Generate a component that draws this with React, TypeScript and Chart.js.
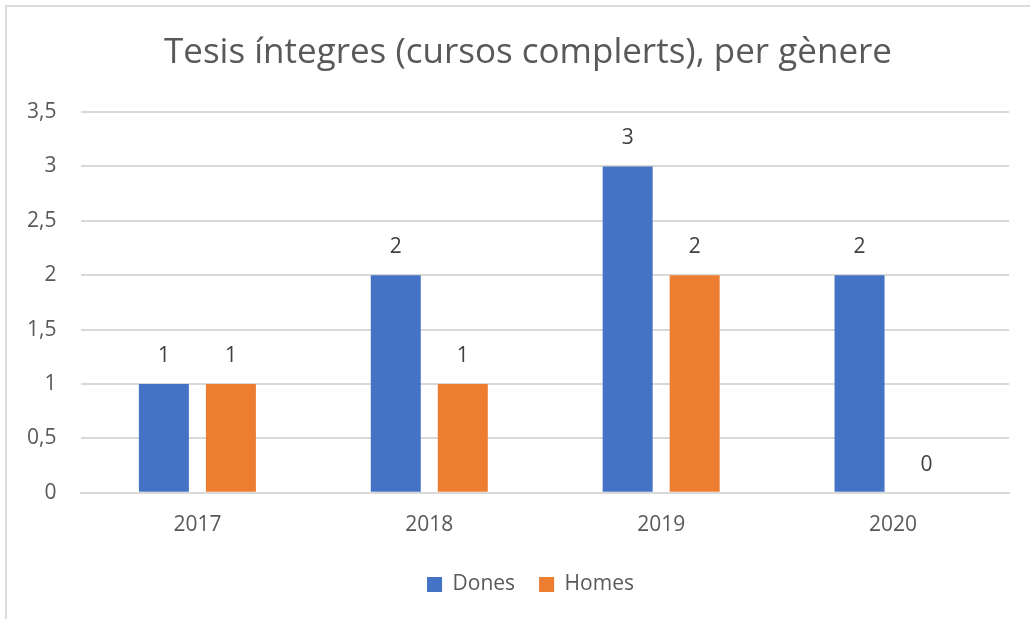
import React, { useEffect, useRef } from "react";
import { Chart, registerables } from "chart.js";

Chart.register(...registerables);

const categories = ["2017", "2018", "2019", "2020"];
const dones = [1, 2, 3, 2];
const homes = [1, 1, 2, 0];
const seriesNames = ["Dones", "Homes"];
const titleText = "Tesis íntegres (cursos complerts), per gènere";

const FONT = "'Open Sans', 'Noto Sans', sans-serif";

const valueLabels = {
  id: "valueLabels",
  afterDatasetsDraw(chart: any) {
    const ctx = chart.ctx;
    ctx.save();
    ctx.fillStyle = "#404040";
    ctx.font = `21px ${FONT}`;
    ctx.textAlign = "center";
    ctx.textBaseline = "middle";
    chart.data.datasets.forEach((ds: any, i: number) => {
      const meta = chart.getDatasetMeta(i);
      meta.data.forEach((bar: any, j: number) => {
        const v = ds.data[j];
        ctx.fillText(String(v), bar.x, bar.y - 28);
      });
    });
    ctx.restore();
  },
};

const chartTitle = {
  id: "chartTitle",
  afterLayout(chart: any) {
    if (chart.legend) {
      chart.legend.left += 25;
      chart.legend.right += 25;
    }
  },
  afterDraw(chart: any) {
    const ctx = chart.ctx;
    ctx.save();
    ctx.fillStyle = "#595959";
    ctx.font = `35px ${FONT}`;
    ctx.textAlign = "center";
    ctx.textBaseline = "middle";
    ctx.fillText(titleText, chart.width / 2 + 13, 53);
    ctx.restore();
  },
};

export default function App() {
  const ref = useRef<HTMLCanvasElement | null>(null);
  useEffect(() => {
    if (!ref.current) return;
    const chart = new Chart(ref.current, {
      type: "bar",
      data: {
        labels: categories,
        datasets: [
          { label: seriesNames[0], data: dones, backgroundColor: "#4472C4" },
          { label: seriesNames[1], data: homes, backgroundColor: "#ED7D31" },
        ],
      },
      options: {
        animation: false,
        responsive: true,
        maintainAspectRatio: false,
        layout: { padding: { top: 112, left: 2, right: 21, bottom: 14 } },
        datasets: {
          bar: { categoryPercentage: 0.578, barPercentage: 0.746 },
        } as any,
        plugins: {
          title: { display: false },
          legend: {
            position: "bottom",
            labels: {
              color: "#595959",
              font: { family: FONT, size: 21 },
              boxWidth: 15,
              boxHeight: 15,
              padding: 24,
            },
          },
          tooltip: { enabled: false },
        },
        scales: {
          x: {
            grid: { display: false },
            border: { color: "#d9d9d9", width: 2 },
            ticks: { color: "#595959", font: { family: FONT, size: 21 }, padding: 12 },
          },
          y: {
            min: 0,
            max: 3.5,
            grid: { color: "#d9d9d9", lineWidth: 2, drawTicks: false },
            border: { display: false },
            ticks: {
              stepSize: 0.5,
              color: "#595959",
              font: { family: FONT, size: 21 },
              padding: 25,
              callback: (v: any) => String(v).replace(".", ","),
            },
          },
        },
      },
      plugins: [valueLabels, chartTitle],
    });
    return () => chart.destroy();
  }, []);
  return (
    <div
      style={{
        position: "fixed",
        left: 0,
        top: 0,
        width: 1030,
        height: 619,
        background: "#fff",
      }}
    >
      <div
        style={{
          position: "absolute",
          left: 5,
          top: 5,
          right: 0,
          bottom: 0,
          borderTop: "2px solid #dcdcdc",
          borderLeft: "2px solid #dcdcdc",
        }}
      />
      <div style={{ position: "absolute", left: 0, top: 0, width: 1030, height: 619 }}>
        <canvas ref={ref} />
      </div>
    </div>
  );
}
